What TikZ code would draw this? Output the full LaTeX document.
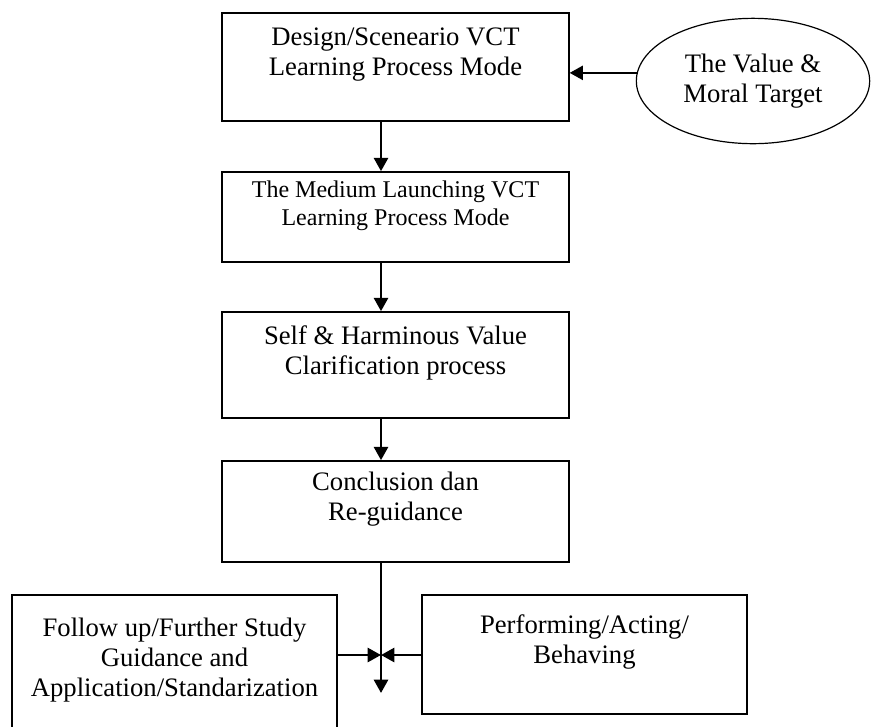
\documentclass[tikz,border=0pt]{standalone}
\usepackage{fontspec}
\setmainfont{Liberation Serif}
\usetikzlibrary{arrows.meta,shapes.geometric}

\begin{document}
\begin{tikzpicture}[
  x=0.75pt, y=-0.75pt,
  stage/.style={rectangle, draw=black, line width=1.2pt, minimum width=260pt, inner ysep=1pt, align=center, font=\fontsize{20}{22.5}\selectfont},
  goal/.style={ellipse, draw=black, line width=0.9pt, minimum width=175pt, minimum height=94pt, inner sep=0pt, align=center, font=\fontsize{20}{22.5}\selectfont},
  sidebox/.style={rectangle, draw=black, line width=1.2pt, minimum width=243.75pt, inner ysep=1pt, align=center, font=\fontsize{20}{22.5}\selectfont},
  flow/.style={draw=black, line width=2pt, -{Triangle[length=10pt,width=10.5pt]}}
]
  \useasboundingbox (0,0) rectangle (874,726);

  % Stages of the VCT model, top to bottom
  \node[stage, minimum height=81pt] (design) at (395.5,67) {Design/Sceneario VCT\\Learning Process Mode\\~};
  \node[stage, minimum height=67.5pt, font=\fontsize{18}{21}\selectfont] (medium) at (395.5,217) {The Medium Launching VCT\\Learning Process Mode\\~};
  \node[stage, minimum height=79.5pt] (clarify) at (395.5,365) {Self \& Harminous Value\\Clarification process\\~};
  \node[stage, minimum height=75.75pt] (conclusion) at (395.5,511.5) {Conclusion dan\\Re-guidance\\~};

  % Target feeding the design stage
  \node[goal] (target) at (753,81) {The Value \&\\Moral Target};

  % The two boxes at the bottom
  \node[sidebox, minimum height=116pt] (followup) at (174.5,672.5) {Follow up/Further Study\\Guidance and\\Application/Standarization\\~};
  \node[sidebox, minimum height=89.25pt] (perform) at (584.5,654.5) {Performing/Acting/\\Behaving\\~};

  \coordinate (chain) at (381,0);
  \coordinate (meet) at (381,655);
  \coordinate (outlet) at (381,693);

  % Arrows
  \draw[flow] (target.176) -- (design.east |- target.176);
  \draw[flow] (design.south -| chain) -- (medium.north -| chain);
  \draw[flow] (medium.south -| chain) -- (clarify.north -| chain);
  \draw[flow] (clarify.south -| chain) -- (conclusion.north -| chain);
  \draw[flow] (conclusion.south -| chain) -- (outlet);
  \draw[flow] (followup.east |- meet) -- (meet);
  \draw[flow] (perform.west |- meet) -- (meet);
\end{tikzpicture}
\end{document}
